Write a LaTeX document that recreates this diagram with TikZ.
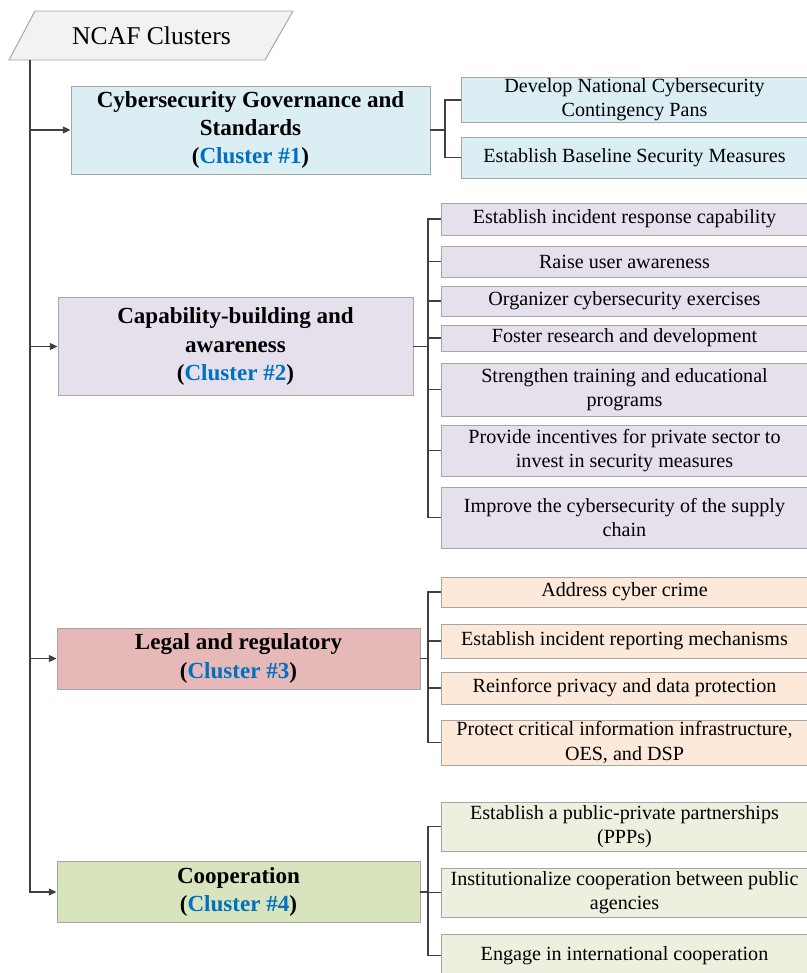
\documentclass[tikz,border=0pt]{standalone}
\usepackage{fontspec}
\setmainfont{Liberation Serif}
\usetikzlibrary{arrows.meta,positioning,calc}

\definecolor{govfill}{HTML}{DAEEF3}
\definecolor{capfill}{HTML}{E5E0EC}
\definecolor{legfill}{HTML}{E6B9B8}
\definecolor{legitem}{HTML}{FDE9D9}
\definecolor{coopfill}{HTML}{D7E4BD}
\definecolor{coopitem}{HTML}{EBF1DE}
\definecolor{hdrfill}{HTML}{F2F2F2}
\definecolor{boxgray}{HTML}{A6A6A6}
\definecolor{linegray}{HTML}{404040}
\definecolor{clblue}{HTML}{0070C0}

\def\pxu{0.025cm}

\tikzset{
  boxsize/.style 2 args={minimum width=#1*\pxu, minimum height=#2*\pxu},
  cluster/.style={draw=boxgray, line width=0.7pt, align=center, inner sep=1pt,
    font=\fontsize{16.4}{20}\selectfont\bfseries},
  item/.style={draw=boxgray, line width=0.7pt, align=center, inner sep=1pt,
    font=\fontsize{14.3}{17.2}\selectfont},
  link/.style={draw=linegray, line width=0.9pt},
  arr/.style={link, -{Triangle[length=5.5pt,width=5pt]}},
}

\begin{document}
\begin{tikzpicture}[x=0.025cm, y=-0.025cm]
    \clip (0,0) rectangle (807,973);
    % header
    \draw[draw=boxgray, fill=hdrfill, line width=0.7pt] (9,60) -- (35,11) -- (293,11) -- (265,60) -- cycle;
    \node[font=\fontsize{18.2}{21}\selectfont] (hdr) at (151.5,36) {NCAF Clusters};
    \coordinate (t0) at (30,60);

    % clusters
    \node[cluster, fill=govfill, boxsize={359}{88}] (c1) at (250.5,130)
      {Cybersecurity Governance and\\Standards\\(\textcolor{clblue}{Cluster \#1})};
    \node[cluster, fill=capfill, boxsize={355}{98}] (c2) at (235.5,346.5)
      {Capability-building and\\awareness\\(\textcolor{clblue}{Cluster \#2})};
    \node[cluster, fill=legfill, boxsize={363}{61}] (c3) at (238.5,658.5)
      {Legal and regulatory\\(\textcolor{clblue}{Cluster \#3})};
    \node[cluster, fill=coopfill, boxsize={363}{61}] (c4) at (238.5,892)
      {Cooperation\\(\textcolor{clblue}{Cluster \#4})};

    % cluster 1 items
    \node[item, fill=govfill, boxsize={347}{44}] (i11) at (634.5,100)
      {Develop National Cybersecurity\\Contingency Pans};
    \node[item, fill=govfill, boxsize={347}{41}] (i12) at (634.5,157.5)
      {Establish Baseline Security Measures};

    % cluster 2 items
    \node[item, fill=capfill, boxsize={367}{32}] (i21) at (624.5,219) {Establish incident response capability};
    \node[item, fill=capfill, boxsize={367}{31}] (i22) at (624.5,261.5) {Raise user awareness};
    \node[item, fill=capfill, boxsize={367}{30}] (i23) at (624.5,301) {Organizer cybersecurity exercises};
    \node[item, fill=capfill, boxsize={367}{26}] (i24) at (624.5,338) {Foster research and development};
    \node[item, fill=capfill, boxsize={367}{53}] (i25) at (624.5,389.5)
      {Strengthen training and educational\\programs};
    \node[item, fill=capfill, boxsize={367}{51}] (i26) at (624.5,450.5)
      {Provide incentives for private sector to\\invest in security measures};
    \node[item, fill=capfill, boxsize={367}{61}] (i27) at (624.5,517.5)
      {Improve the cybersecurity of the supply\\chain};

    % cluster 3 items
    \node[item, fill=legitem, boxsize={367}{30}] (i31) at (624.5,592) {Address cyber crime};
    \node[item, fill=legitem, boxsize={367}{34}] (i32) at (624.5,641) {Establish incident reporting mechanisms};
    \node[item, fill=legitem, boxsize={367}{32}] (i33) at (624.5,688) {Reinforce privacy and data protection};
    \node[item, fill=legitem, boxsize={367}{45}] (i34) at (624.5,742.5)
      {Protect critical information infrastructure,\\OES, and DSP};

    % cluster 4 items
    \node[item, fill=coopitem, boxsize={367}{49}] (i41) at (624.5,826.5)
      {Establish a public-private partnerships\\(PPPs)};
    \node[item, fill=coopitem, boxsize={367}{49}] (i42) at (624.5,892.5)
      {Institutionalize cooperation between public\\agencies};
    \node[item, fill=coopitem, boxsize={367}{42}] (i43) at (624.5,955.5)
      {Engage in international cooperation};

    % trunk and arrows
    \draw[arr] (t0) |- (c4.west);
    \draw[arr] (c1.west -| t0) -- (c1.west);
    \draw[arr] (c2.west -| t0) -- (c2.west);
    \draw[arr] (c3.west -| t0) -- (c3.west);

    % brackets
    \coordinate (s1) at (445,0);
    \coordinate (s2) at (428,0);
    \draw[link] (c1.east) -- (c1.east -| s1);
    \draw[link] (i11.west) -| (s1 |- i12.west) -- (i12.west);

    \draw[link] (c2.east) -- (c2.east -| s2);
    \draw[link] (i21.west) -| (s2 |- i27.west) -- (i27.west);
    \draw[link] (i22.west) -- (i22.west -| s2);
    \draw[link] (i23.west) -- (i23.west -| s2);
    \draw[link] (i24.west) -- (i24.west -| s2);
    \draw[link] (i25.west) -- (i25.west -| s2);
    \draw[link] (i26.west) -- (i26.west -| s2);

    \draw[link] (c3.east) -- (c3.east -| s2);
    \draw[link] (i31.west) -| (s2 |- i34.west) -- (i34.west);
    \draw[link] (i32.west) -- (i32.west -| s2);
    \draw[link] (i33.west) -- (i33.west -| s2);

    \draw[link] (c4.east) -- (c4.east -| s2);
    \draw[link] (i41.west) -| (s2 |- i43.west) -- (i43.west);
    \draw[link] (i42.west) -- (i42.west -| s2);
\end{tikzpicture}
\end{document}
